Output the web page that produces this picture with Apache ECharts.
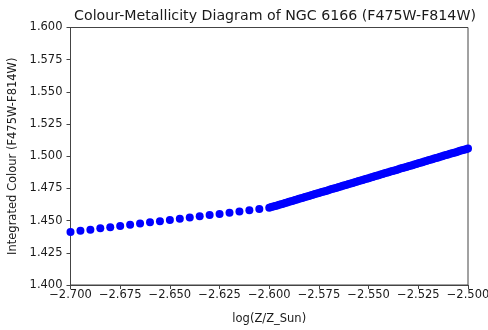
<!DOCTYPE html>
<html>
<head>
<meta charset="utf-8">
<script src="https://cdn.jsdelivr.net/npm/echarts@6/dist/echarts.min.js"></script>
<style>
  html, body { margin: 0; padding: 0; background: #fff; }
  #chart { width: 488px; height: 330px; }
</style>
</head>
<body>
<div id="chart"></div>
<script>
// Coarse grid of models, log(Z/Z_Sun) from -2.700 to -2.605
const logZCoarse = [-2.700, -2.695, -2.690, -2.685, -2.680, -2.675, -2.670, -2.665, -2.660, -2.655,
  -2.650, -2.645, -2.640, -2.635, -2.630, -2.625, -2.620, -2.615, -2.610, -2.605];
const colourCoarse = [1.4412, 1.4421, 1.4430, 1.4440, 1.4449, 1.4458, 1.4468, 1.4477, 1.4487, 1.4496,
  1.4505, 1.4515, 1.4524, 1.4534, 1.4543, 1.4552, 1.4562, 1.4571, 1.4581, 1.4590];

// Fine grid of models, log(Z/Z_Sun) from -2.600 to -2.500
const logZFine = [
  -2.600, -2.599, -2.598, -2.597, -2.596, -2.595, -2.594, -2.593, -2.592, -2.591,
  -2.590, -2.589, -2.588, -2.587, -2.586, -2.585, -2.584, -2.583, -2.582, -2.581,
  -2.580, -2.579, -2.578, -2.577, -2.576, -2.575, -2.574, -2.573, -2.572, -2.571,
  -2.570, -2.569, -2.568, -2.567, -2.566, -2.565, -2.564, -2.563, -2.562, -2.561,
  -2.560, -2.559, -2.558, -2.557, -2.556, -2.555, -2.554, -2.553, -2.552, -2.551,
  -2.550, -2.549, -2.548, -2.547, -2.546, -2.545, -2.544, -2.543, -2.542, -2.541,
  -2.540, -2.539, -2.538, -2.537, -2.536, -2.535, -2.534, -2.533, -2.532, -2.531,
  -2.530, -2.529, -2.528, -2.527, -2.526, -2.525, -2.524, -2.523, -2.522, -2.521,
  -2.520, -2.519, -2.518, -2.517, -2.516, -2.515, -2.514, -2.513, -2.512, -2.511,
  -2.510, -2.509, -2.508, -2.507, -2.506, -2.505, -2.504, -2.503, -2.502, -2.501,
  -2.500];
const colourFine = [
  1.4600, 1.4605, 1.4609, 1.4614, 1.4618, 1.4623, 1.4628, 1.4632, 1.4637, 1.4641,
  1.4646, 1.4651, 1.4655, 1.4660, 1.4664, 1.4669, 1.4674, 1.4678, 1.4683, 1.4687,
  1.4692, 1.4697, 1.4701, 1.4706, 1.4710, 1.4715, 1.4720, 1.4724, 1.4729, 1.4733,
  1.4738, 1.4743, 1.4747, 1.4752, 1.4756, 1.4761, 1.4766, 1.4770, 1.4775, 1.4779,
  1.4784, 1.4789, 1.4793, 1.4798, 1.4802, 1.4807, 1.4812, 1.4816, 1.4821, 1.4825,
  1.4830, 1.4835, 1.4839, 1.4844, 1.4848, 1.4853, 1.4858, 1.4862, 1.4867, 1.4871,
  1.4876, 1.4881, 1.4885, 1.4890, 1.4894, 1.4899, 1.4904, 1.4908, 1.4913, 1.4917,
  1.4922, 1.4927, 1.4931, 1.4936, 1.4940, 1.4945, 1.4950, 1.4954, 1.4959, 1.4963,
  1.4968, 1.4973, 1.4977, 1.4982, 1.4986, 1.4991, 1.4996, 1.5000, 1.5005, 1.5009,
  1.5014, 1.5019, 1.5023, 1.5028, 1.5032, 1.5037, 1.5042, 1.5046, 1.5051, 1.5055,
  1.5060];

const titleText = 'Colour-Metallicity Diagram of NGC 6166 (F475W-F814W)';
const xName = 'log(Z/Z_Sun)';
const yName = 'Integrated Colour (F475W-F814W)';

const points = [];
logZCoarse.forEach((x, i) => points.push([x, colourCoarse[i]]));
logZFine.forEach((x, i) => points.push([x, colourFine[i]]));

const fmt = v => v.toFixed(3).replace('-', '\u2212');
const font = 'DejaVu Sans';
const textColor = '#1a1a1a';
const axisColor = '#444';

const chart = echarts.init(document.getElementById('chart'), null, { renderer: 'canvas' });
chart.setOption({
  animation: false,
  backgroundColor: '#ffffff',
  title: {
    text: titleText,
    left: 270, top: 4, textAlign: 'center',
    textStyle: { fontFamily: font, fontSize: 14.2, fontWeight: 'normal', color: textColor }
  },
  grid: {
    left: 70.5, right: 20, top: 27.5, bottom: 45,
    outerBoundsMode: 'none', containLabel: false,
    show: true, borderColor: axisColor, borderWidth: 1, backgroundColor: 'transparent'
  },
  xAxis: {
    type: 'value', min: -2.7, max: -2.5, interval: 0.025,
    name: xName, nameLocation: 'middle', nameGap: 28,
    nameTextStyle: { fontFamily: font, fontSize: 11.5, color: textColor },
    axisLine: { show: true, onZero: false, lineStyle: { color: axisColor, width: 1 } },
    axisTick: { show: true, length: 4, lineStyle: { color: axisColor } },
    axisLabel: { formatter: fmt, margin: 4, fontFamily: font, fontSize: 11.5, color: textColor, showMinLabel: true, showMaxLabel: true },
    splitLine: { show: false }
  },
  yAxis: {
    type: 'value', min: 1.4, max: 1.6, interval: 0.025,
    name: yName, nameLocation: 'middle', nameGap: 49,
    nameTextStyle: { fontFamily: font, fontSize: 11.5, color: textColor },
    axisLine: { show: true, onZero: false, lineStyle: { color: axisColor, width: 1 } },
    axisTick: { show: true, length: 4, lineStyle: { color: axisColor } },
    axisLabel: { formatter: fmt, margin: 8, fontFamily: font, fontSize: 11.5, color: textColor },
    splitLine: { show: false }
  },
  series: [{
    type: 'scatter',
    data: points,
    symbol: 'circle',
    symbolSize: 8,
    clip: true,
    itemStyle: { color: '#0000ff', opacity: 1 }
  }]
});
</script>
</body>
</html>
